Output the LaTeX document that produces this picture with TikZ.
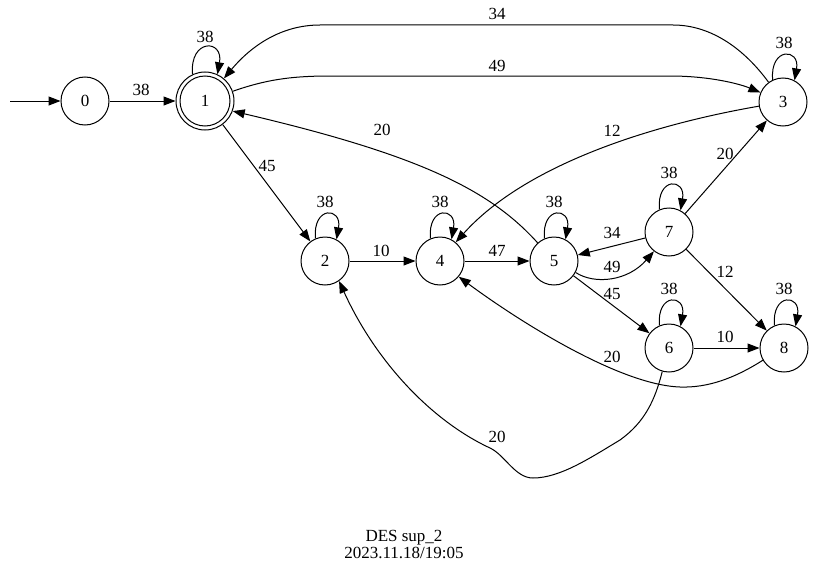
\documentclass[tikz,border=0pt]{standalone}
\usepackage{fontspec}
\setmainfont{Liberation Serif}
\usetikzlibrary{arrows.meta}
\begin{document}
\begin{tikzpicture}[x=1pt,y=1pt,
  line width=1pt,
  every node/.style={font=\fontsize{17pt}{19pt}\selectfont},
  state/.style={draw, circle, minimum size=48pt, inner sep=0pt},
  accept/.style={draw, circle, minimum size=58pt, inner sep=0pt},
  arr/.style={-{Triangle[length=12pt,width=9pt]}},
  lbl/.style={inner sep=0pt}]
\useasboundingbox (0,0) rectangle (813,-578);

% states
\node[state]  (n0) at (85,-101) {0};
\node[accept] (n1) at (205,-101) {1};
\draw (n1.center) circle[radius=25pt];
\node[state]  (n3) at (783,-102) {3};
\node[state]  (n2) at (325,-261) {2};
\node[state]  (n4) at (440,-261) {4};
\node[state]  (n5) at (554,-261) {5};
\node[state]  (n7) at (669,-232) {7};
\node[state]  (n6) at (669,-348) {6};
\node[state]  (n8) at (784,-348) {8};

% initial arrow
\coordinate (init) at (10,-101);
\draw[arr] (init) -- (n0);

% transitions
\draw[arr] (n0) -- (n1);
\node[lbl] (l01) at (141,-90) {38};

\draw[arr] (n1.115) .. controls +(95:36) and +(80:36) .. (n1.65);
\node[lbl] (l11) at (205,-37) {38};

\draw[arr] (n1) .. controls (265,-80) and (290,-76) .. (330,-76) -- (670,-76)
  .. controls (710,-76) and (740,-84) .. (n3);
\node[lbl] (l13) at (497,-66) {49};

\draw[arr] (n3) .. controls (745,-50) and (712,-25) .. (673,-25) -- (320,-25)
  .. controls (282,-25) and (252,-45) .. (n1);
\node[lbl] (l31) at (497,-14) {34};

\draw[arr] (n3.115) .. controls +(95:33) and +(80:33) .. (n3.62);
\node[lbl] (l33) at (784,-43) {38};

\draw[arr] (n1) -- (n2);
\node[lbl] (l12) at (267,-166) {45};

\draw[arr] (n5) .. controls (490,-190) and (420,-155) .. (n1.-20);
\node[lbl] (l51) at (382,-130) {20};

\draw[arr] (n3) .. controls (650,-125) and (525,-165) .. (n4.50);
\node[lbl] (l34) at (612,-131) {12};

\draw[arr] (n7) -- (n3);
\node[lbl] (l73) at (725,-154) {20};

\draw[arr] (n2.113) .. controls +(95:33) and +(80:33) .. (n2.62);
\node[lbl] (l22) at (325,-202) {38};
\draw[arr] (n4.113) .. controls +(95:33) and +(80:33) .. (n4.62);
\node[lbl] (l44) at (440,-202) {38};
\draw[arr] (n5.113) .. controls +(95:33) and +(80:33) .. (n5.62);
\node[lbl] (l55) at (554,-202) {38};
\draw[arr] (n7.113) .. controls +(95:33) and +(80:33) .. (n7.62);
\node[lbl] (l77) at (669,-173) {38};
\draw[arr] (n6.113) .. controls +(95:33) and +(80:33) .. (n6.62);
\node[lbl] (l66) at (669,-289) {38};
\draw[arr] (n8.113) .. controls +(95:33) and +(80:33) .. (n8.62);
\node[lbl] (l88) at (784,-289) {38};

\draw[arr] (n2) -- (n4);
\node[lbl] (l24) at (381,-251) {10};
\draw[arr] (n4) -- (n5);
\node[lbl] (l45) at (497,-251) {47};

\draw[arr] (n7) -- (n5);
\node[lbl] (l75) at (612,-233) {34};
\draw[arr] (n5.-28) .. controls (595,-285) and (628,-281) .. (n7.-128);
\node[lbl] (l57) at (612,-267) {49};
\draw[arr] (n5) -- (n6);
\node[lbl] (l56) at (612,-294) {45};
\draw[arr] (n7) -- (n8);
\node[lbl] (l78) at (725,-272) {12};
\draw[arr] (n6) -- (n8);
\node[lbl] (l68) at (725,-337) {10};

\draw[arr] (n8.-150) .. controls (735,-378) and (708,-388) .. (680,-387)
  .. controls (620,-385) and (520,-322) .. (n4.-40);
\node[lbl] (l84) at (612,-357) {20};

\draw[arr] (n6.-106) .. controls (655,-400) and (645,-422) .. (620,-440)
  .. controls (590,-458) and (560,-478) .. (533,-478)
  .. controls (515,-478) and (505,-455) .. (490,-448)
  .. controls (430,-420) and (375,-360) .. (n2.-55);
\node[lbl] (l62) at (497,-437) {20};

% caption
\node[lbl, anchor=base] (cap1) at (404,-541) {DES sup\_2};
\node[lbl, anchor=base] (cap2) at (404,-558) {2023.11.18/19:05};
\end{tikzpicture}
\end{document}
